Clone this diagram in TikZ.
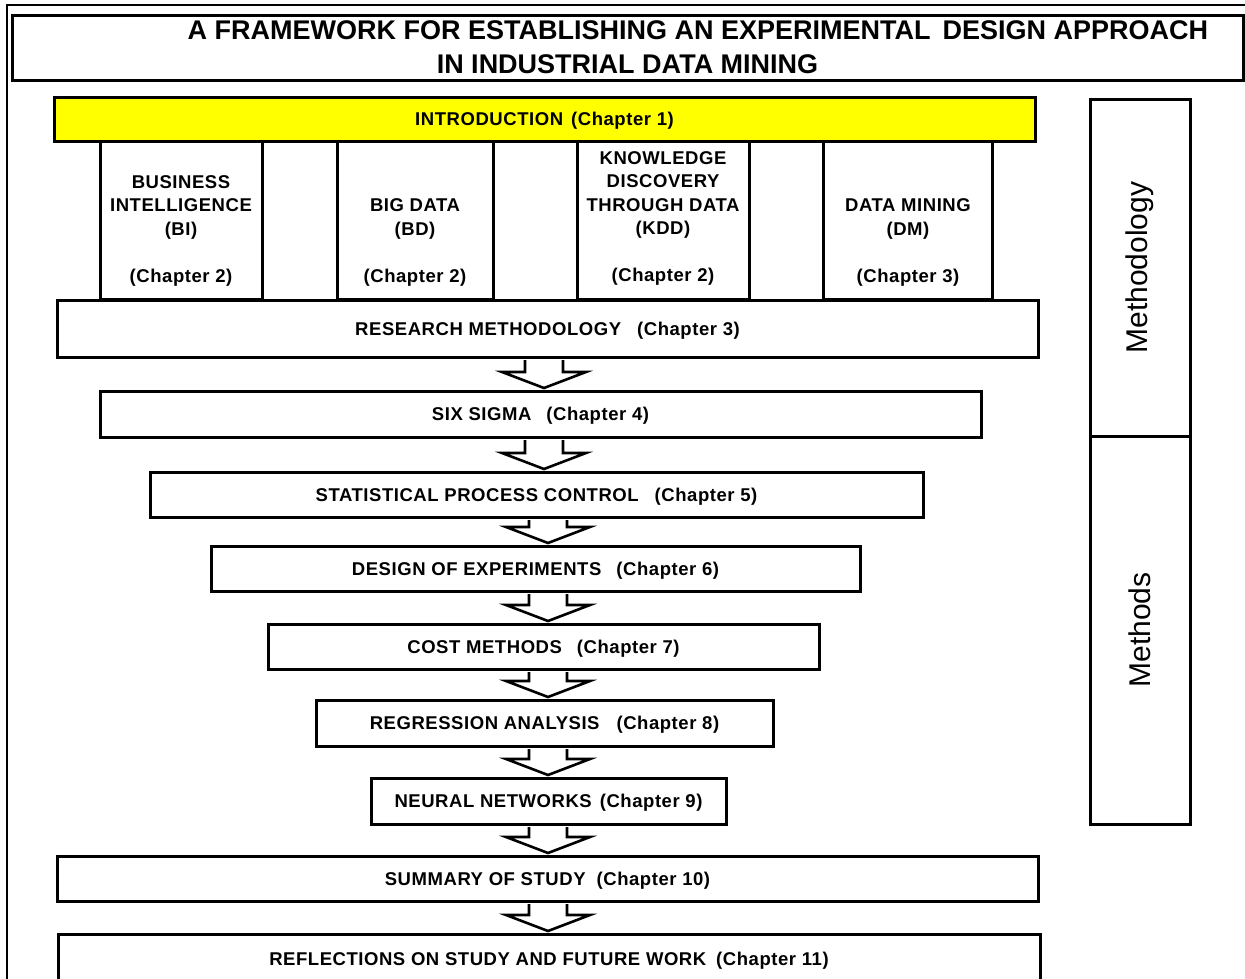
\documentclass[tikz,border=0pt]{standalone}
\usepackage{fontspec}
\setmainfont{Liberation Sans}
\newfontfamily\boxfont[LetterSpace=3]{Liberation Sans}
\usetikzlibrary{calc}
\definecolor{introyellow}{RGB}{255,255,0}
\tikzset{
  box/.style={draw, line width=3pt, fill=white, inner sep=0pt,
    text height=13.3pt, text depth=0pt,
    font=\boxfont\bfseries\fontsize{18.5}{22}\selectfont},
  colbox/.style={draw, line width=3pt, inner sep=0pt},
  coltext/.style={align=center, inner sep=0pt,
    font=\boxfont\bfseries\fontsize{18.5}{23.5}\selectfont},
  sidebox/.style={draw, line width=3pt, inner sep=0pt, rotate=90,
    font=\fontsize{30}{30}\selectfont},
  barrow/.style={draw, line width=2.6pt, fill=white, line join=miter},
  frameline/.style={line width=2pt},
}
\newcommand\blockarr[3]{%
  \draw[barrow] let \p1=(#1.south), \p2=(#2.north) in
    (#3-19pt,\y1-1.5pt) -- (#3-19pt,\y2+17.5pt) -- (#3-42pt,\y2+17.5pt)
    -- (#3,\y2+1.5pt) -- (#3+42pt,\y2+17.5pt) -- (#3+19pt,\y2+17.5pt)
    -- (#3+19pt,\y1-1.5pt);}
\begin{document}
\begin{tikzpicture}[x=1pt,y=-1pt]
\useasboundingbox (0,0) rectangle (1245,978);
% outer frame
\draw[frameline] (1245,5) -- (7,5) -- (7,985);
% title
\node[draw, line width=3pt, minimum width=1231pt, minimum height=65pt, inner sep=0pt,
  align=center, font=\bfseries\fontsize{27}{33}\selectfont] (titlebox) at (627.5,47.5)
  {\hspace*{141pt}A FRAMEWORK FOR ESTABLISHING AN EXPERIMENTAL\hspace{12pt}DESIGN APPROACH\\[1pt]IN INDUSTRIAL DATA MINING};
% columns
\node[colbox, minimum width=162pt, minimum height=158pt] (bi) at (181,220) {};
\node[colbox, minimum width=156pt, minimum height=158pt] (bd) at (415,220) {};
\node[colbox, minimum width=172pt, minimum height=158pt] (kdd) at (663,220) {};
\node[colbox, minimum width=169pt, minimum height=158pt] (dm) at (907.5,220) {};
\node[coltext] (bitext) at (181,230.5) {BUSINESS\\INTELLIGENCE\\(BI)\\[23.5pt](Chapter 2)};
\node[coltext] (bdtext) at (415,242.5) {BIG DATA\\(BD)\\[23.5pt](Chapter 2)};
\node[coltext] (kddtext) at (663,218.5) {KNOWLEDGE\\DISCOVERY\\THROUGH DATA\\(KDD)\\[23.5pt](Chapter 2)};
\node[coltext] (dmtext) at (908,242.5) {DATA MINING\\(DM)\\[23.5pt](Chapter 3)};
% main boxes
\node[box, fill=introyellow, minimum width=981pt, minimum height=44pt] (intro) at (544.5,119)
  {INTRODUCTION\hspace{8pt}(Chapter 1)};
\node[box, minimum width=981pt, minimum height=57pt] (research) at (547.5,328.5)
  {RESEARCH METHODOLOGY\hspace{16pt}(Chapter 3)};
\node[box, minimum width=881pt, minimum height=46pt] (six) at (540.5,414)
  {SIX SIGMA\hspace{15pt}(Chapter 4)};
\node[box, minimum width=773pt, minimum height=45pt] (spc) at (536.5,494.5)
  {STATISTICAL PROCESS CONTROL\hspace{16pt}(Chapter 5)};
\node[box, minimum width=649pt, minimum height=45pt] (doe) at (535.5,568.5)
  {DESIGN OF EXPERIMENTS\hspace{15pt}(Chapter 6)};
\node[box, minimum width=551pt, minimum height=45pt] (cost) at (543.5,646.5)
  {COST METHODS\hspace{15pt}(Chapter 7)};
\node[box, minimum width=457pt, minimum height=46pt] (regr) at (544.5,723)
  {REGRESSION ANALYSIS\hspace{17pt}(Chapter 8)};
\node[box, minimum width=355pt, minimum height=46pt] (nn) at (548.5,801)
  {NEURAL NETWORKS\hspace{8pt}(Chapter 9)};
\node[box, minimum width=981pt, minimum height=45pt] (summary) at (547.5,878.5)
  {SUMMARY OF STUDY\hspace{11pt}(Chapter 10)};
\node[box, minimum width=982pt, minimum height=50pt] (reflect) at (549,959)
  {REFLECTIONS ON STUDY AND FUTURE WORK\hspace{10pt}(Chapter 11)};
% block arrows
\blockarr{research}{six}{544pt}
\blockarr{six}{spc}{544pt}
\blockarr{spc}{doe}{548pt}
\blockarr{doe}{cost}{548pt}
\blockarr{cost}{regr}{548pt}
\blockarr{regr}{nn}{548pt}
\blockarr{nn}{summary}{548pt}
\blockarr{summary}{reflect}{548pt}
% side boxes
\node[sidebox, minimum width=337pt, minimum height=100pt] (methodology) at (1140,267.5) {Methodology};
\node[sidebox, minimum width=388pt, minimum height=100pt] (methods) at (1140,630) {Methods};
\end{tikzpicture}
\end{document}
